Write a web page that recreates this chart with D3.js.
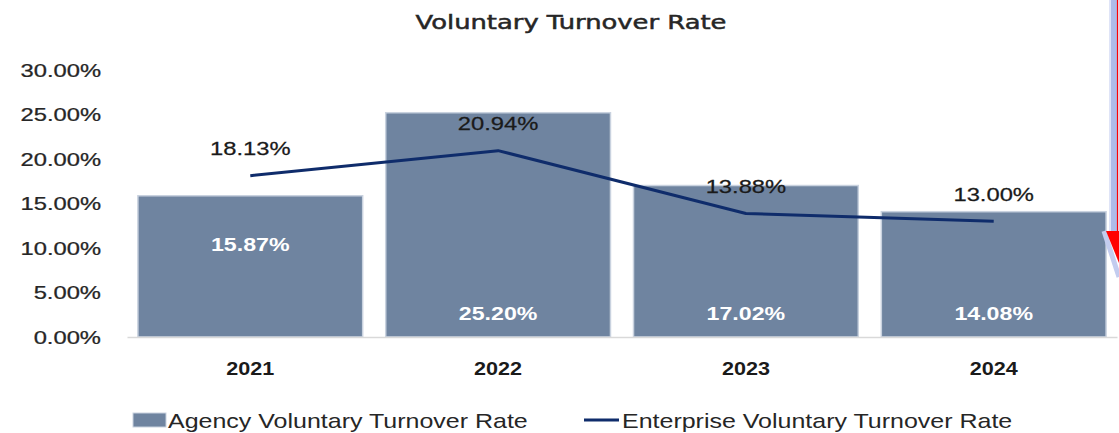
<!DOCTYPE html>
<html>
<head>
<meta charset="utf-8">
<script src="https://cdn.jsdelivr.net/npm/d3@7/dist/d3.min.js"></script>
<style>
  html, body { margin: 0; padding: 0; background: #ffffff; }
  svg { display: block; }
</style>
</head>
<body>
<svg id="chart" width="1119" height="433"></svg>
<script>
// ---- data ----
const years = ["2021", "2022", "2023", "2024"];
const agencyRate = [15.87, 25.20, 17.02, 14.08];      // bars (%)
const enterpriseRate = [18.13, 20.94, 13.88, 13.00];  // line (%)
const yTicks = [0, 5, 10, 15, 20, 25, 30];
const seriesNames = ["Agency Voluntary Turnover Rate", "Enterprise Voluntary Turnover Rate"];
const titleText = "Voluntary Turnover Rate";

// ---- styles ----
const barColor = "#6f84a0";
const barEdge = "#c9d2df";
const lineColor = "#0f2c6b";
const textDark = "#262626";

const svg = d3.select("#chart");

const x = d3.scaleBand().domain(years).range([127, 1117]).paddingInner(0.093).paddingOuter(0.044);
const y = d3.scaleLinear().domain([0, 30]).range([337, 70]);

// title
svg.append("text")
  .attr("transform", "translate(571,29) scale(1.29,1)")
  .attr("text-anchor", "middle")
  .style("font-family", "DejaVu Sans, sans-serif")
  .style("font-size", "20px")
  .style("fill", textDark)
  .style("stroke", textDark)
  .style("stroke-width", "0.5px")
  .text(titleText);

// y axis (labels only)
const yAxis = d3.axisLeft(y).tickValues(yTicks).tickSize(0).tickPadding(0)
  .tickFormat(d => d.toFixed(2) + "%");
const gy = svg.append("g").attr("transform", "translate(101,0)").call(yAxis);
gy.select(".domain").remove();
gy.selectAll("text")
  .attr("x", 0).attr("dy", "0.35em")
  .attr("transform", "scale(1.32,1)")
  .style("font-family", "Liberation Sans, Arial, sans-serif")
  .style("font-size", "18px")
  .style("fill", textDark)
  .style("stroke", textDark)
  .style("stroke-width", "0.25px");

// bars
svg.append("g").selectAll("rect")
  .data(years)
  .join("rect")
  .attr("x", d => x(d))
  .attr("y", (d, i) => y(agencyRate[i]))
  .attr("width", x.bandwidth())
  .attr("height", (d, i) => y(0) - y(agencyRate[i]))
  .attr("fill", barColor)
  .attr("stroke", barEdge)
  .attr("stroke-width", 1.5);

// x axis
const xAxis = d3.axisBottom(x).tickSize(0).tickPadding(25);
const gx = svg.append("g").attr("transform", "translate(0,337)").call(xAxis);
gx.select(".domain").attr("stroke", "#d9d9d9").attr("stroke-width", 1.5);
gx.selectAll("text")
  .attr("transform", "scale(1.2,1)")
  .style("font-family", "Liberation Sans, Arial, sans-serif")
  .style("font-size", "18px")
  .style("font-weight", "bold")
  .style("fill", "#1a1a1a");

// bar labels (first sits higher inside its bar, others near the base)
const barLabelAt = [10.4, 2.7, 2.7, 2.7];
svg.append("g").selectAll("text")
  .data(years)
  .join("text")
  .attr("transform", (d, i) => `translate(${x(d) + x.bandwidth() / 2},${y(barLabelAt[i])}) scale(1.22,1)`)
  .attr("text-anchor", "middle")
  .attr("dy", "0.36em")
  .style("font-family", "Liberation Sans, Arial, sans-serif")
  .style("font-size", "19px")
  .style("font-weight", "bold")
  .style("fill", "#ffffff")
  .text((d, i) => agencyRate[i].toFixed(2) + "%");

// line
const line = d3.line()
  .x(d => x(d.year) + x.bandwidth() / 2)
  .y(d => y(d.v));
const linePts = years.map((yr, i) => ({ year: yr, v: enterpriseRate[i] }));
svg.append("path")
  .datum(linePts)
  .attr("d", line)
  .attr("fill", "none")
  .attr("stroke", lineColor)
  .attr("stroke-width", 3)
  .attr("stroke-linejoin", "round");

// line labels
svg.append("g").selectAll("text")
  .data(linePts)
  .join("text")
  .attr("transform", d => `translate(${x(d.year) + x.bandwidth() / 2},${y(d.v) - 27}) scale(1.25,1)`)
  .attr("text-anchor", "middle")
  .attr("dy", "0.36em")
  .style("font-family", "Liberation Sans, Arial, sans-serif")
  .style("font-size", "19px")
  .style("fill", "#1a1a1a")
  .style("stroke", "#1a1a1a")
  .style("stroke-width", "0.25px")
  .text(d => d.v.toFixed(2) + "%");

// legend
const lg = svg.append("g");
lg.append("rect").attr("x", 133).attr("y", 413).attr("width", 33).attr("height", 14)
  .attr("fill", barColor).attr("stroke", barEdge).attr("stroke-width", 1);
lg.append("text")
  .attr("transform", "translate(168,420) scale(1.19,1)")
  .attr("dy", "0.36em")
  .style("font-family", "Liberation Sans, Arial, sans-serif")
  .style("font-size", "21px")
  .style("fill", textDark)
  .text(seriesNames[0]);
lg.append("line").attr("x1", 584).attr("x2", 619).attr("y1", 420).attr("y2", 420)
  .attr("stroke", lineColor).attr("stroke-width", 3);
lg.append("text")
  .attr("transform", "translate(622,420) scale(1.19,1)")
  .attr("dy", "0.36em")
  .style("font-family", "Liberation Sans, Arial, sans-serif")
  .style("font-size", "21px")
  .style("fill", textDark)
  .text(seriesNames[1]);

// right-edge callout decoration
const deco = svg.append("g");
deco.append("rect").attr("x", 1109).attr("y", 0).attr("width", 10).attr("height", 232)
  .attr("fill", "#dfe4f7");
deco.append("rect").attr("x", 1111).attr("y", 0).attr("width", 6).attr("height", 232)
  .attr("fill", "#aebbe8");
deco.append("line").attr("x1", 1104).attr("x2", 1119).attr("y1", 231).attr("y2", 277)
  .attr("stroke", "#c3ccef").attr("stroke-width", 5);
deco.append("line").attr("x1", 1117.5).attr("x2", 1117.5).attr("y1", 0).attr("y2", 232)
  .attr("stroke", "#ff0000").attr("stroke-width", 1.2);
deco.append("polygon").attr("points", "1106,231 1119,231 1119,263")
  .attr("fill", "#ff0000");
</script>
</body>
</html>
